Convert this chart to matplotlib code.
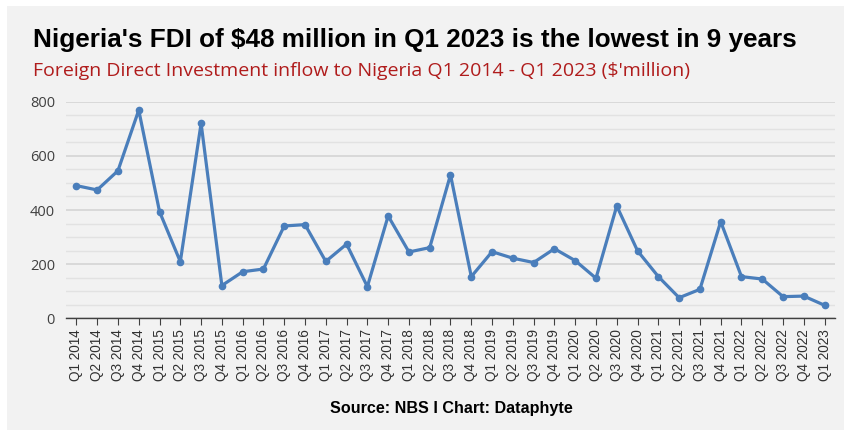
import matplotlib.pyplot as plt
from matplotlib.patches import Rectangle
from matplotlib.ticker import MultipleLocator

# ==========================================
# data
# ==========================================
quarters = ['Q1', 'Q2', 'Q3', 'Q4']
years = list(range(2014, 2024))
labels = [f"{q} {y}" for y in years for q in quarters][:37]

fdi = [490, 474, 545, 769, 394, 209, 720, 121, 172, 182, 341,
       346, 210, 274, 117, 378, 245, 261, 530, 154, 246, 222,
       206, 257, 213, 148, 415, 249, 154, 76, 107, 357, 154,
       145, 80, 82, 48]

TITLE = "Nigeria's FDI of $48 million in Q1 2023 is the lowest in 9 years"
SUBTITLE = "Foreign Direct Investment inflow to Nigeria Q1 2014 - Q1 2023 ($'million)"
SOURCE = "Source: NBS I Chart: Dataphyte"

BG = '#f2f2f2'
LINE = '#4a7ebb'

fig = plt.figure(figsize=(8.45, 4.30), dpi=100)
fig.patch.set_facecolor('white')
# gray panel
fig.patches.append(Rectangle((7 / 845, 0), 1, 1 - 6 / 430, transform=fig.transFigure,
                             facecolor=BG, edgecolor='none', zorder=-10))

ax = fig.add_axes([66 / 845, 1 - 318.3 / 430, (835 - 66) / 845, (318.3 - 101.7) / 430])
ax.set_facecolor(BG)

x = list(range(len(fdi)))
ax.plot(x, fdi, color=LINE, lw=2.3, marker='o', ms=4.5, zorder=3)

ax.set_xlim(-0.5, len(fdi) - 0.5)
ax.set_ylim(0, 800)
ax.yaxis.set_major_locator(MultipleLocator(200))
ax.yaxis.set_minor_locator(MultipleLocator(50))
ax.grid(axis='y', which='major', color='#d4d4d4', lw=1.2, zorder=0)
ax.grid(axis='y', which='minor', color='#e2e2e2', lw=1.0, zorder=0)
ax.tick_params(axis='y', which='both', length=0, labelsize=10.5, labelcolor='#404040', pad=8)
for t in ax.get_yticklabels():
    t.set_family('Open Sans')

ax.set_xticks(x)
ax.set_xticklabels(labels, rotation=90, fontsize=9.8, color='#303030', family='Liberation Sans')
ax.tick_params(axis='x', length=5, width=0.8, color='#404040', pad=3)

for s in ['top', 'right', 'left']:
    ax.spines[s].set_visible(False)
ax.spines['bottom'].set_color('#404040')
ax.spines['bottom'].set_linewidth(1.0)

fig.text(33 / 845, 1 - 40 / 430, TITLE, fontsize=18.8, fontweight='bold',
         family='Liberation Sans', color='black', va='center', ha='left')
fig.text(33 / 845, 1 - 71 / 430, SUBTITLE, fontsize=14, family='Open Sans',
         color='#b01c1c', va='center', ha='left')
fig.text(451 / 845, 1 - 408 / 430, SOURCE, fontsize=11.6, fontweight='bold',
         family='Liberation Sans', color='black', va='center', ha='center')

fig.savefig('out.png', dpi=100, facecolor=fig.get_facecolor())
